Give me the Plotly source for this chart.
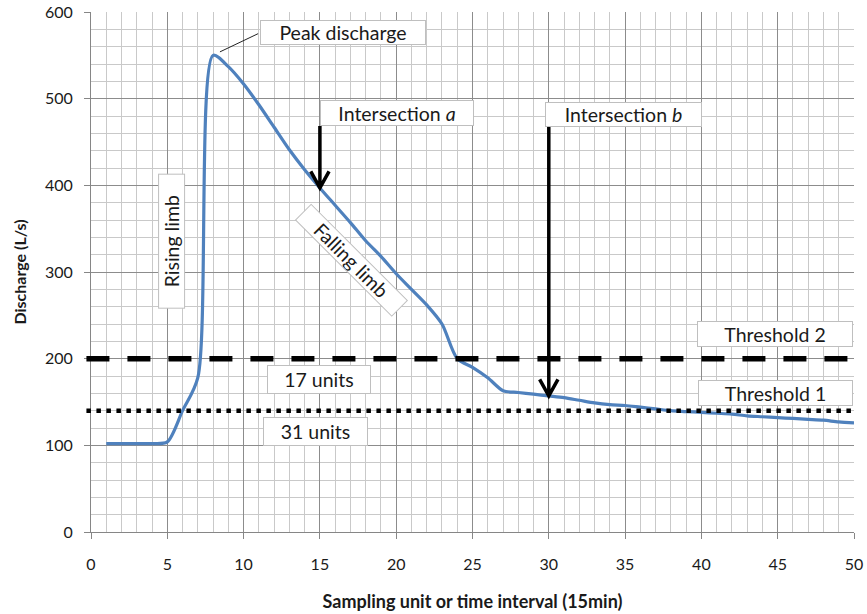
import plotly.graph_objects as go

# ---- data ----
sampling_unit = list(range(1, 51))
discharge = [102, 102, 102, 102, 104, 140, 178, 550, 537, 517,
             493, 467, 441, 418, 397, 377, 357, 336, 318, 298,
             280, 262, 240, 200, 190, 178, 163, 161, 159, 157,
             155, 152, 149, 147, 146, 144, 142, 140, 139, 138,
             137, 136, 134, 133, 132, 131, 130, 129, 127, 126]
threshold_values = [140, 200]          # Threshold 1 (dotted), Threshold 2 (dashed)
intersection_x = [15, 30]              # Intersection a, Intersection b
x_ticks = [0, 5, 10, 15, 20, 25, 30, 35, 40, 45, 50]
y_ticks = [0, 100, 200, 300, 400, 500, 600]

FONT = "Lato"
TXT = "#1a1a1a"

fig = go.Figure()
fig.add_trace(go.Scatter(
    x=sampling_unit, y=discharge, mode="lines",
    line=dict(color="#4F81BD", width=3.2, shape="spline", smoothing=0.8),
    hoverinfo="skip", showlegend=False))

# threshold lines
fig.add_shape(type="line", xref="paper", yref="y", x0=-0.006, x1=1.0,
              y0=threshold_values[1], y1=threshold_values[1],
              line=dict(color="black", width=5.5, dash="23px,18px"))
fig.add_shape(type="line", xref="paper", yref="y", x0=-0.006, x1=1.0,
              y0=threshold_values[0], y1=threshold_values[0],
              line=dict(color="black", width=4.5, dash="4.5px,5.5px"))

# intersection arrows (from label box down to the curve)
arrow_top = [468.5, 467.5]
for xi, top in zip(intersection_x, arrow_top):
    tip = discharge[sampling_unit.index(xi)]
    dx, dy = 0.6, 19
    path = (f"M {xi},{top} L {xi},{tip} "
            f"M {xi - dx},{tip + dy} L {xi},{tip} L {xi + dx},{tip + dy}")
    fig.add_shape(type="path", xref="x", yref="y", path=path,
                  line=dict(color="black", width=3.5))

# leader line for peak label
peak_i = discharge.index(max(discharge))
fig.add_shape(type="line", xref="x", yref="y",
              x0=sampling_unit[peak_i] + 0.45, y0=max(discharge) + 4,
              x1=10.95, y1=575, line=dict(color="#222222", width=1))

def box(text, x, y, w, h, angle=0, size=19.5):
    fig.add_annotation(x=x, y=y, xref="x", yref="y", text=text, showarrow=False,
                       textangle=angle, width=w, height=h, bgcolor="white",
                       bordercolor="#bfbfbf", borderwidth=1, borderpad=0,
                       font=dict(family=FONT, size=size, color=TXT),
                       align="center", valign="middle")

box("Peak discharge", 16.52, 576, 164, 23)
box("Intersection <i>a</i>", 20.06, 483, 152, 24)
box("Intersection <i>b</i>", 34.88, 481.7, 155, 23)
box("Rising limb", 5.30, 336, 133, 25, angle=-90)
box("Falling limb", 17.09, 313.5, 135, 21, angle=45)
box("Threshold 2", 44.85, 228.5, 154, 24)
box("Threshold 1", 44.85, 160, 153, 24)
box("17 units", 14.93, 175.6, 102, 27)
box("31 units", 14.73, 115.4, 103, 27)

axis_common = dict(
    showline=True, linecolor="#868686", linewidth=1,
    ticks="outside", ticklen=6, tickcolor="#868686", tickwidth=1,
    showgrid=True, gridcolor="#8c8c8c", gridwidth=1,
    zeroline=False, fixedrange=True, automargin=False,
    tickfont=dict(family=FONT, size=16, color=TXT),
)

fig.update_layout(
    width=867, height=614,
    margin=dict(l=91, r=13, t=12, b=82),
    paper_bgcolor="white", plot_bgcolor="white",
    showlegend=False,
    xaxis=dict(range=[0, 50], tickvals=x_ticks, ticklabelstandoff=12,
               minor=dict(dtick=1, showgrid=True, gridcolor="#c9c9c9", gridwidth=1),
               title=dict(text="<b>Sampling unit or time interval (15min)</b>",
                          font=dict(family=FONT, size=18, color=TXT), standoff=23),
               **axis_common),
    yaxis=dict(range=[0, 600], tickvals=y_ticks, ticklabelstandoff=8,
               minor=dict(dtick=20, showgrid=True, gridcolor="#c9c9c9", gridwidth=1),
               title=dict(text="<b>Discharge (L/s)</b>",
                          font=dict(family=FONT, size=16, color=TXT), standoff=14),
               **axis_common),
)

fig.write_html("out.html")
